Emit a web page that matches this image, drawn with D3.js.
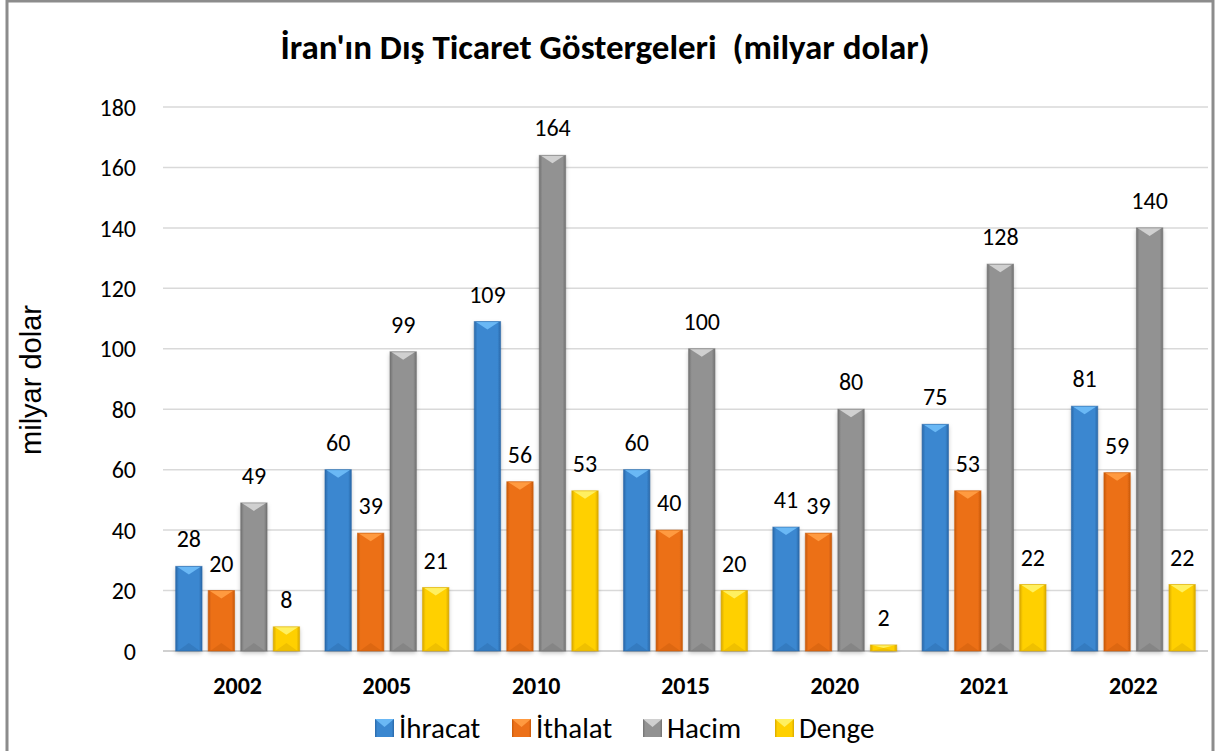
<!DOCTYPE html>
<html>
<head>
<meta charset="utf-8">
<script src="https://cdn.jsdelivr.net/npm/d3@7"></script>
<style>
  body { margin: 0; background: #fff; }
  text { font-family: Carlito, Lato, "Open Sans", sans-serif; fill: #000; }
</style>
</head>
<body>
<div id="container"></div>
<script>
/* CONSTANTS AND GLOBALS */
const width = 1217,
  height = 751;

const years = ["2002", "2005", "2010", "2015", "2020", "2021", "2022"];
const seriesNames = ["İhracat", "İthalat", "Hacim", "Denge"];
const ihracat = [28, 60, 109, 60, 41, 75, 81];
const ithalat = [20, 39, 56, 40, 39, 53, 59];
const hacim = [49, 99, 164, 100, 80, 128, 140];
const denge = [8, 21, 53, 20, 2, 22, 22];
const yTicks = [0, 20, 40, 60, 80, 100, 120, 140, 160, 180];

// colours per series: [light, mid, dark]
const colors = [
  ["#6ab8f5", "#3a87d0", "#2a68a8"],
  ["#ff9a40", "#ec7018", "#c85a0a"],
  ["#d0d0d0", "#929292", "#727272"],
  ["#fff060", "#ffd000", "#d8a800"]
];

const seriesValues = [ihracat, ithalat, hacim, denge];
const data = years.map((y, i) => ({
  year: y,
  values: seriesNames.map((s, k) => ({ key: k, name: s, value: seriesValues[k][i] }))
}));

const margin = { left: 163, right: 9 };

// 1. scales
const x0 = d3.scaleBand()
  .domain(years)
  .range([margin.left, width - margin.right])
  .paddingInner(0.17)
  .paddingOuter(0.085);

const x1 = d3.scaleBand()
  .domain(d3.range(4))
  .range([0, x0.bandwidth()])
  .paddingInner(0.19);

const yScale = d3.scaleLinear()
  .domain([0, 180])
  .range([651, 107]);

// 2. svg
const svg = d3.select("#container")
  .append("svg")
  .attr("width", width)
  .attr("height", height);

// gradients
const defs = svg.append("defs");
colors.forEach((c, k) => {
  const g = defs.append("linearGradient")
    .attr("id", "grad" + k)
    .attr("x1", "0").attr("x2", "1").attr("y1", "0").attr("y2", "0");
  g.append("stop").attr("offset", "0%").attr("stop-color", c[2]);
  g.append("stop").attr("offset", "12%").attr("stop-color", c[1]);
  g.append("stop").attr("offset", "88%").attr("stop-color", c[1]);
  g.append("stop").attr("offset", "100%").attr("stop-color", c[2]);
});
const shadow = defs.append("filter").attr("id", "shadow")
  .attr("x", "-30%").attr("y", "-10%").attr("width", "160%").attr("height", "130%");
shadow.append("feDropShadow").attr("dx", 0).attr("dy", 2).attr("stdDeviation", 2)
  .attr("flood-color", "#000").attr("flood-opacity", 0.25);

// frame
svg.append("rect")
  .attr("x", 7).attr("y", 1)
  .attr("width", 1206).attr("height", 760)
  .attr("fill", "none")
  .attr("stroke", "#8c8c8c")
  .attr("stroke-width", 3);

// 3. gridlines
svg.append("g")
  .selectAll("line")
  .data(yTicks)
  .join("line")
  .attr("x1", margin.left)
  .attr("x2", width - margin.right)
  .attr("y1", d => yScale(d))
  .attr("y2", d => yScale(d))
  .attr("stroke", d => d === 0 ? "#d0d0d0" : "#d9d9d9")
  .attr("stroke-width", d => d === 0 ? 2 : 1.5);

// y tick labels
svg.append("g")
  .selectAll("text")
  .data(yTicks)
  .join("text")
  .attr("x", 136)
  .attr("y", d => yScale(d))
  .attr("dy", "0.36em")
  .attr("text-anchor", "end")
  .style("font-size", "24px")
  .text(d => d);

// category labels
svg.append("g")
  .selectAll("text")
  .data(years)
  .join("text")
  .attr("x", d => x0(d) + x0.bandwidth() / 2)
  .attr("y", 694)
  .attr("text-anchor", "middle")
  .style("font-size", "24px")
  .style("font-weight", "bold")
  .text(d => d);

// 4. bars
const groups = svg.append("g")
  .selectAll("g")
  .data(data)
  .join("g")
  .attr("transform", d => `translate(${x0(d.year)},0)`);

const bars = groups.selectAll("g")
  .data(d => d.values)
  .join("g");

function bevel(sel) {
  sel.each(function (d) {
    const g = d3.select(this);
    const bx = x1(d.key), bw = x1.bandwidth();
    const top = yScale(d.value), bottom = yScale(0);
    const h = bottom - top;
    const depth = Math.min(8, h / 2);
    g.append("rect")
      .attr("x", bx).attr("y", top)
      .attr("width", bw).attr("height", h)
      .attr("fill", `url(#grad${d.key})`)
      .attr("filter", "url(#shadow)");
    // top bevel
    g.append("path")
      .attr("d", `M${bx + 1},${top}L${bx + bw - 1},${top}L${bx + bw / 2},${top + depth}Z`)
      .attr("fill", colors[d.key][0]);
    // bottom bevel
    g.append("path")
      .attr("d", `M${bx + 2},${bottom}L${bx + bw - 2},${bottom}L${bx + bw / 2},${bottom - depth}Z`)
      .attr("fill", colors[d.key][2]).attr("opacity", 0.4);
    g.append("rect")
      .attr("x", bx).attr("y", top)
      .attr("width", bw).attr("height", h)
      .attr("fill", "none")
      .attr("stroke", colors[d.key][2])
      .attr("stroke-opacity", 0.6)
      .attr("stroke-width", 1);
  });
}
bars.call(bevel);

// value labels
bars.append("text")
  .attr("x", d => x1(d.key) + x1.bandwidth() / 2)
  .attr("y", d => yScale(d.value) - 19)
  .attr("text-anchor", "middle")
  .style("font-size", "24px")
  .text(d => d.value);

// title
svg.append("text")
  .attr("x", 605)
  .attr("y", 59)
  .attr("text-anchor", "middle")
  .style("font-size", "35px")
  .style("font-weight", "bold")
  .style("white-space", "pre")
  .text("İran'ın Dış Ticaret Göstergeleri  (milyar dolar)");

// y axis title
svg.append("text")
  .attr("transform", "translate(41,380) rotate(-90)")
  .attr("text-anchor", "middle")
  .style("font-family", "'Liberation Sans', Arial, sans-serif")
  .style("font-size", "29px")
  .text("milyar dolar");

// legend
const legendX = [375, 512, 643, 775];
const legend = svg.append("g")
  .selectAll("g")
  .data(seriesNames)
  .join("g")
  .attr("transform", (d, i) => `translate(${legendX[i]},728)`);
legend.append("rect")
  .attr("x", 0).attr("y", -9)
  .attr("width", 19).attr("height", 18)
  .attr("fill", (d, i) => `url(#grad${i})`);
legend.append("path")
  .attr("d", "M0,-9L19,-9L9.5,-1Z")
  .attr("fill", (d, i) => colors[i][0]);
legend.append("text")
  .attr("x", 24)
  .attr("dy", "0.36em")
  .style("font-size", "29px")
  .text(d => d);
</script>
</body>
</html>
